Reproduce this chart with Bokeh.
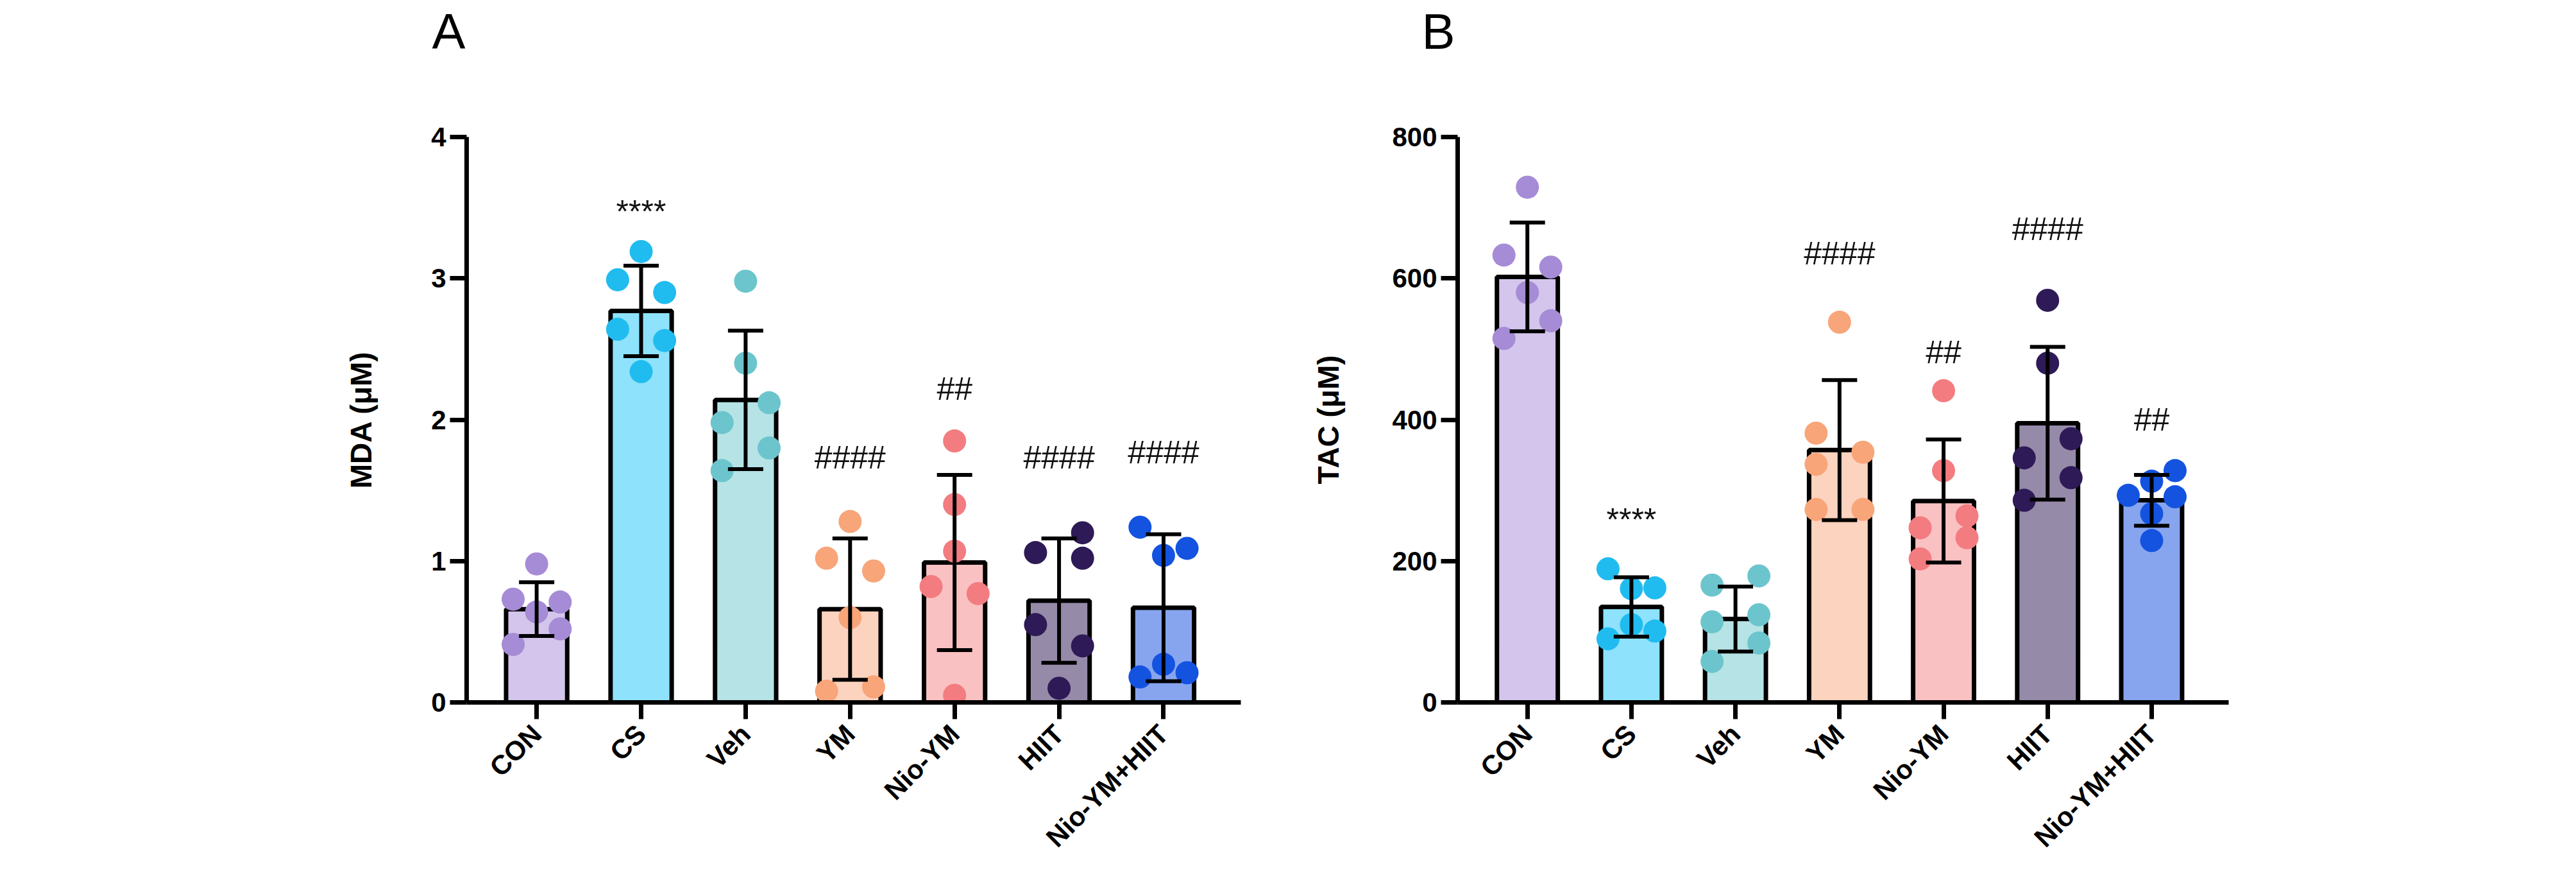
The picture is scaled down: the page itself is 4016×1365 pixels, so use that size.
import numpy as np
from bokeh.plotting import figure
from bokeh.models import ColumnDataSource, Range1d, FixedTicker, Whisker, TeeHead
from bokeh.layouts import row, column
from bokeh.core.properties import value
from bokeh.embed import file_html
from bokeh.resources import INLINE

# ---------------- data ----------------
categories = ["CON", "CS", "Veh", "YM", "Nio-YM", "HIIT", "Nio-YM+HIIT"]

mda_mean = [0.66, 2.77, 2.14, 0.66, 0.99, 0.72, 0.67]
mda_sd = [0.19, 0.32, 0.49, 0.50, 0.62, 0.44, 0.52]
mda_points = [
    [0.98, 0.73, 0.71, 0.64, 0.52, 0.41],
    [3.19, 2.99, 2.90, 2.64, 2.56, 2.34],
    [2.98, 2.40, 2.12, 1.98, 1.80, 1.64],
    [1.28, 1.02, 0.93, 0.60, 0.08, 0.11],
    [1.85, 1.40, 1.07, 0.82, 0.77, 0.05],
    [1.20, 1.06, 1.02, 0.55, 0.40, 0.10],
    [1.24, 1.04, 1.09, 0.27, 0.18, 0.21],
]
mda_marks = ["", "****", "", "####", "##", "####", "####"]
mda_mark_y = [0, 3.47, 0, 1.73, 2.22, 1.73, 1.77]

tac_mean = [602, 135, 118, 357, 285, 395, 286]
tac_sd = [77, 42, 46, 99, 87, 108, 36]
tac_points = [
    [729, 633, 616, 580, 540, 515],
    [189, 161, 162, 90, 110, 101],
    [166, 179, 124, 114, 84, 58],
    [538, 381, 354, 337, 273, 273],
    [441, 328, 264, 247, 233, 203],
    [569, 480, 373, 346, 318, 286],
    [328, 313, 293, 291, 267, 229],
]
tac_marks = ["", "****", "", "####", "##", "####", "##"]
tac_mark_y = [0, 258, 0, 635, 495, 670, 400]

panel_letters = ["A", "B"]

# ---------------- layout / style ----------------
# horizontal column of each dot inside its bar (-1 left, 0 centre, 1 right)
mda_cols = [
    [0, -1, 1, 0, 1, -1],
    [0, -1, 1, -1, 1, 0],
    [0, 0, 1, -1, 1, -1],
    [0, -1, 1, 0, -1, 1],
    [0, 0, 0, -1, 1, 0],
    [1, -1, 1, -1, 1, 0],
    [-1, 0, 1, 0, -1, 1],
]
tac_cols = [
    [0, -1, 1, 0, 1, -1],
    [-1, 0, 1, -1, 0, 1],
    [-1, 1, 1, -1, 1, -1],
    [0, -1, 1, -1, -1, 1],
    [0, 0, 1, -1, 1, -1],
    [0, 0, 1, -1, 1, -1],
    [1, 0, -1, 1, 0, 0],
]
fill_colors = ["#D3C5EB", "#8EE2FB", "#B6E3E5", "#FCD3BF", "#FAC1C2", "#968AA9", "#87A5EF"]
dot_colors = ["#A68BD6", "#20BCF0", "#6CC5CD", "#F7A579", "#F37C80", "#2E1A56", "#1453E0"]

FONT = "Liberation Sans"
DOT_STEP = 0.225
STRIP_H = 110          # height of the strip holding the panel letters
TOTAL_W = 4000


def make_panel(ylabel, means, sds, points, cols, marks, mark_y,
               yticks, left_border, right_border, frame_w, label_standoff):
    ymax = yticks[-1]
    p = figure(output_backend="svg", toolbar_location=None,
               frame_width=frame_w, frame_height=881,
               min_border_left=left_border, min_border_right=right_border,
               min_border_top=213 - STRIP_H, min_border_bottom=236,
               x_range=Range1d(-0.67, 6.74), y_range=Range1d(0, ymax))
    p.outline_line_color = None
    p.grid.visible = False
    p.background_fill_color = "white"
    p.border_fill_color = "white"

    x = list(range(len(categories)))
    bars = ColumnDataSource(dict(x=x, top=means, fill=fill_colors))
    p.vbar(x="x", top="top", bottom=0, width=0.585, source=bars,
           fill_color="fill", line_color="black", line_width=7)

    dx, dy, dc = [], [], []
    for i, (vals, cc) in enumerate(zip(points, cols)):
        for v, c in zip(vals, cc):
            dx.append(i + c * DOT_STEP)
            dy.append(v)
            dc.append(dot_colors[i])
    dots = ColumnDataSource(dict(x=dx, y=dy, c=dc))
    p.scatter(x="x", y="y", size=36, fill_color="c", line_color=None, source=dots)

    err = ColumnDataSource(dict(
        x=x,
        lower=[m - s for m, s in zip(means, sds)],
        upper=[m + s for m, s in zip(means, sds)],
    ))
    w = Whisker(source=err, base="x", lower="lower", upper="upper",
                line_width=6, line_color="black", level="overlay",
                upper_head=TeeHead(size=55, line_width=6, line_color="black"),
                lower_head=TeeHead(size=55, line_width=6, line_color="black"))
    p.add_layout(w)

    ann = ColumnDataSource(dict(
        x=[i for i, m in enumerate(marks) if m],
        y=[mark_y[i] for i, m in enumerate(marks) if m],
        t=[m for m in marks if m],
    ))
    p.text(x="x", y="y", text="t", source=ann, text_align="center",
           text_baseline="middle", text_font=value(FONT),
           text_font_size="50px", text_color="#111111")

    # axes
    for ax in p.axis:
        ax.axis_line_width = 7
        ax.axis_line_color = "black"
        ax.major_tick_line_width = 7
        ax.major_tick_line_color = "black"
        ax.major_tick_out = 26
        ax.major_tick_in = 0
        ax.minor_tick_line_color = None
        ax.major_label_text_font = FONT
        ax.major_label_text_font_style = "bold"
        ax.major_label_text_font_size = "42px"
        ax.major_label_text_color = "black"
    p.xaxis.ticker = FixedTicker(ticks=x)
    p.xaxis.major_label_overrides = {i: c for i, c in enumerate(categories)}
    p.xaxis.major_label_orientation = np.pi / 4
    p.xaxis.major_label_standoff = 16
    p.yaxis.ticker = FixedTicker(ticks=yticks)
    p.yaxis.major_label_standoff = 6
    p.yaxis.axis_label = ylabel
    p.yaxis.axis_label_text_font = FONT
    p.yaxis.axis_label_text_font_style = "bold"
    p.yaxis.axis_label_text_font_size = "46px"
    p.yaxis.axis_label_text_color = "black"
    p.yaxis.axis_label_standoff = label_standoff
    return p


pA = make_panel("MDA (μM)", mda_mean, mda_sd, mda_points, mda_cols,
                mda_marks, mda_mark_y, [0, 1, 2, 3, 4], 727, 66, 1207, 80)
pB = make_panel("TAC (μM)", tac_mean, tac_sd, tac_points, tac_cols,
                tac_marks, tac_mark_y, [0, 200, 400, 600, 800], 272, 526, 1202, 70)

# strip above the panels carrying the panel letters (pixel-like coordinates)
strip = figure(output_backend="svg", toolbar_location=None,
               width=TOTAL_W, height=STRIP_H,
               min_border=0, min_border_left=0, min_border_right=0,
               min_border_top=0, min_border_bottom=0,
               x_range=Range1d(0, TOTAL_W), y_range=Range1d(STRIP_H, 0))
strip.axis.visible = False
strip.grid.visible = False
strip.outline_line_color = None
strip.background_fill_color = "white"
strip.border_fill_color = "white"
letters = ColumnDataSource(dict(x=[699, 2242], y=[48, 48], t=panel_letters))
strip.text(x="x", y="y", text="t", source=letters, text_align="center",
           text_baseline="middle", text_font=value(FONT),
           text_font_size="78px", text_color="black")

layout = column(strip, row(pA, pB))
open("out.html", "w").write(file_html(layout, INLINE))
